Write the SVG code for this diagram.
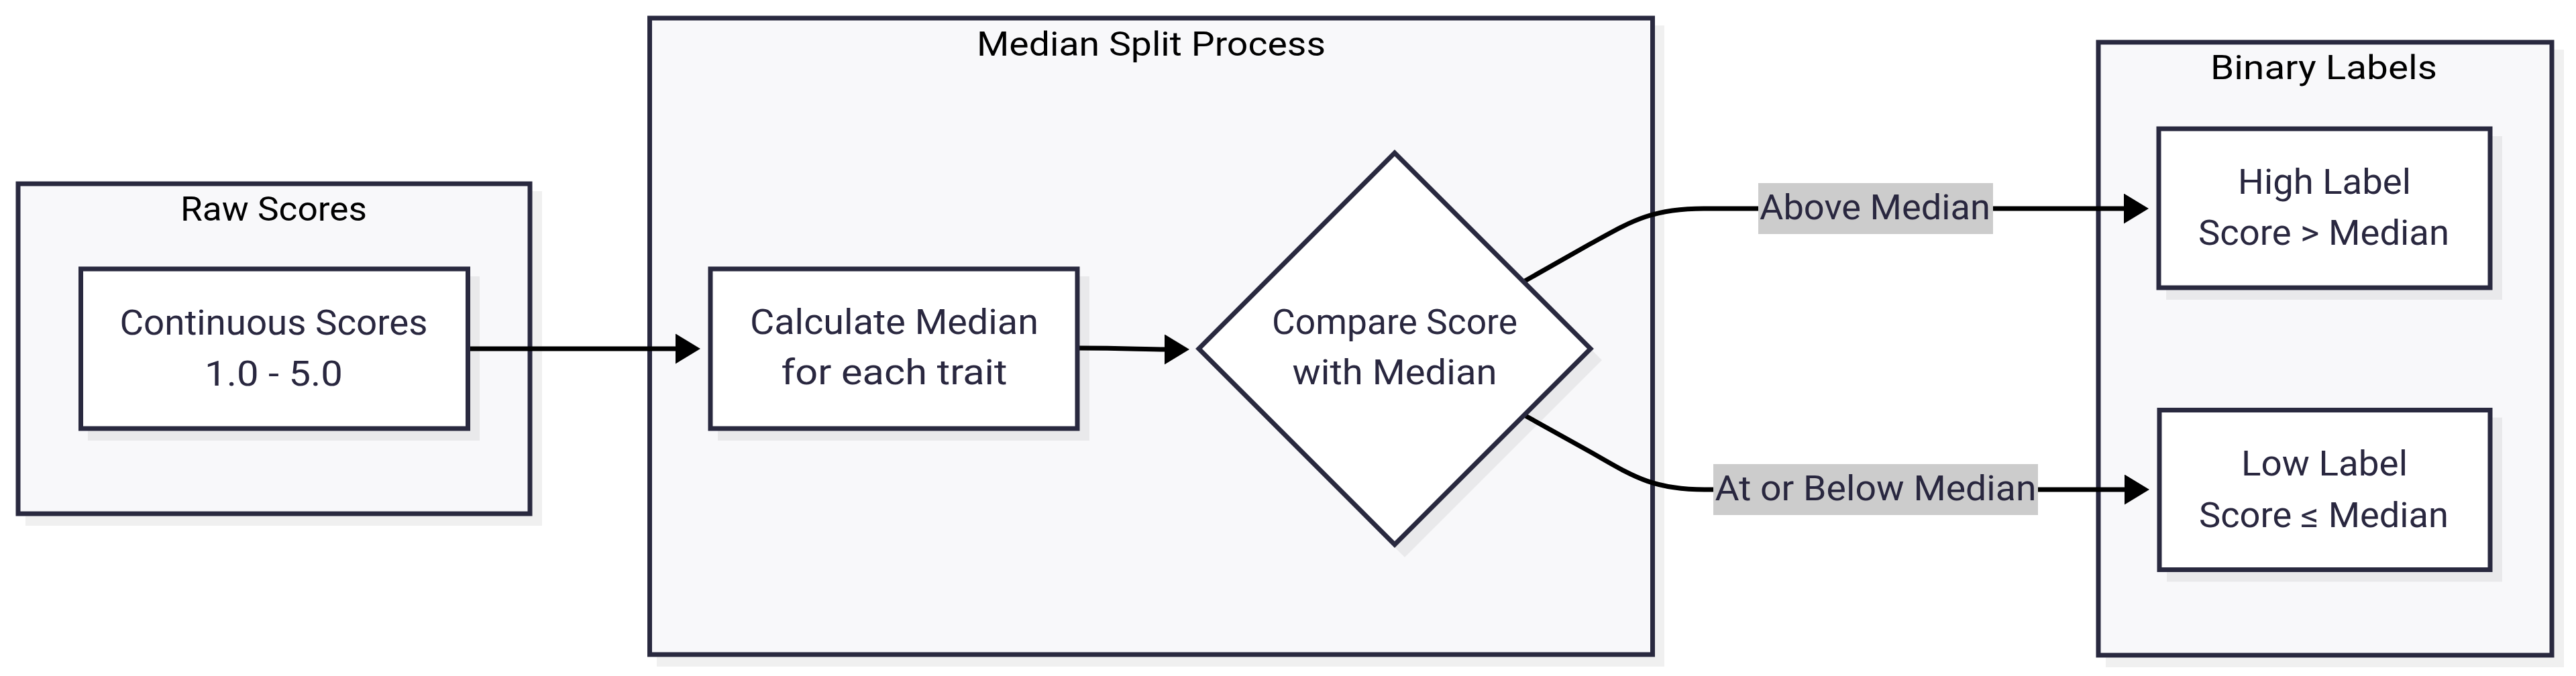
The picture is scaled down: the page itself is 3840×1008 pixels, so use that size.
<svg xmlns="http://www.w3.org/2000/svg" width="3840" height="1008" viewBox="0 0 3840 1008">
<defs>
<style>
.cl{fill:#f8f8fa;stroke:#29293f;stroke-width:7}
.sh{fill:#000;fill-opacity:0.06}
.nd{fill:#ffffff;stroke:#29293f;stroke-width:7}
.ct{font-family:Roboto,"Liberation Sans",sans-serif;font-size:50px;fill:#000;text-anchor:middle}
.nt{font-family:Roboto,"Liberation Sans",sans-serif;font-size:51px;fill:#29273f;text-anchor:middle}
.ed{fill:none;stroke:#000;stroke-width:7}
.lb{fill:#cccccc}
</style>
<marker id="ah" markerUnits="userSpaceOnUse" markerWidth="40" markerHeight="46" refX="3" refY="22.5" orient="auto" viewBox="0 0 40 46">
<path d="M0,0 L37,22.5 L0,45 Z" fill="#000"/>
</marker>
</defs>
<rect width="3840" height="1008" fill="#ffffff"/>

<g id="cluster-raw">
<rect class="sh" x="38" y="285" width="770" height="499"/>
<rect class="cl" x="27" y="274" width="763" height="492"/>
<text class="ct" x="408" y="329" textLength="278" lengthAdjust="spacingAndGlyphs">Raw Scores</text>
</g>
<g id="cluster-median">
<rect class="sh" x="979" y="38" width="1502" height="956"/>
<rect class="cl" x="968.5" y="27" width="1495" height="949"/>
<text class="ct" x="1716" y="83" textLength="520" lengthAdjust="spacingAndGlyphs">Median Split Process</text>
</g>
<g id="cluster-binary">
<rect class="sh" x="3139" y="74" width="683" height="921"/>
<rect class="cl" x="3128" y="63" width="676" height="914"/>
<text class="ct" x="3464" y="118" textLength="338" lengthAdjust="spacingAndGlyphs">Binary Labels</text>
</g>

<g id="connectors">
<path class="ed" d="M701,520 L1010,520" marker-end="url(#ah)"/>
<path class="ed" d="M1609,519 C1680,519 1700,521 1739,521" marker-end="url(#ah)"/>
<path class="ed" d="M2273,419 L2370,364 C2430,331 2460,311 2540,311 L3169,311" marker-end="url(#ah)"/>
<path class="ed" d="M2274,620 L2371,674 C2431,708 2461,730 2541,730 L3170,730" marker-end="url(#ah)"/>
<g id="label-above">
<rect class="lb" x="2621" y="273" width="350" height="76"/>
<text class="nt" x="2795" y="327" textLength="344" lengthAdjust="spacingAndGlyphs">Above Median</text>
</g>
<g id="label-below">
<rect class="lb" x="2554" y="692" width="484" height="76"/>
<text class="nt" x="2796" y="746" textLength="479" lengthAdjust="spacingAndGlyphs">At or Below Median</text>
</g>
</g>

<g id="node-continuous">
<rect class="sh" x="131" y="412" width="584" height="245"/>
<rect class="nd" x="120.5" y="401" width="577" height="238"/>
<text class="nt" x="408" y="499" textLength="459" lengthAdjust="spacingAndGlyphs">Continuous Scores</text>
<text class="nt" x="408" y="575" textLength="206" lengthAdjust="spacingAndGlyphs">1.0 - 5.0</text>
</g>
<g id="node-calculate">
<rect class="sh" x="1070" y="412" width="554" height="245"/>
<rect class="nd" x="1059" y="401" width="547" height="238"/>
<text class="nt" x="1333" y="498" textLength="430" lengthAdjust="spacingAndGlyphs">Calculate Median</text>
<text class="nt" x="1333" y="573" textLength="337" lengthAdjust="spacingAndGlyphs">for each trait</text>
</g>
<g id="node-compare">
<polygon class="sh" points="2094,243 2388,537 2094,831 1800,537"/>
<polygon class="nd" points="2079,228 2371,520 2079,812 1787,520"/>
<text class="nt" x="2079" y="498" textLength="366" lengthAdjust="spacingAndGlyphs">Compare Score</text>
<text class="nt" x="2079" y="573" textLength="305" lengthAdjust="spacingAndGlyphs">with Median</text>
</g>
<g id="node-high">
<rect class="sh" x="3229" y="203" width="501" height="244"/>
<rect class="nd" x="3218" y="192" width="494" height="237"/>
<text class="nt" x="3465" y="289" textLength="258" lengthAdjust="spacingAndGlyphs">High Label</text>
<text class="nt" x="3464" y="365" textLength="374" lengthAdjust="spacingAndGlyphs">Score &gt; Median</text>
</g>
<g id="node-low">
<rect class="sh" x="3230" y="622.5" width="500" height="245"/>
<rect class="nd" x="3219" y="611.5" width="493" height="238"/>
<text class="nt" x="3465" y="709" textLength="248" lengthAdjust="spacingAndGlyphs">Low Label</text>
<text class="nt" x="3464" y="786" textLength="372" lengthAdjust="spacingAndGlyphs">Score ≤ Median</text>
</g>
</svg>
